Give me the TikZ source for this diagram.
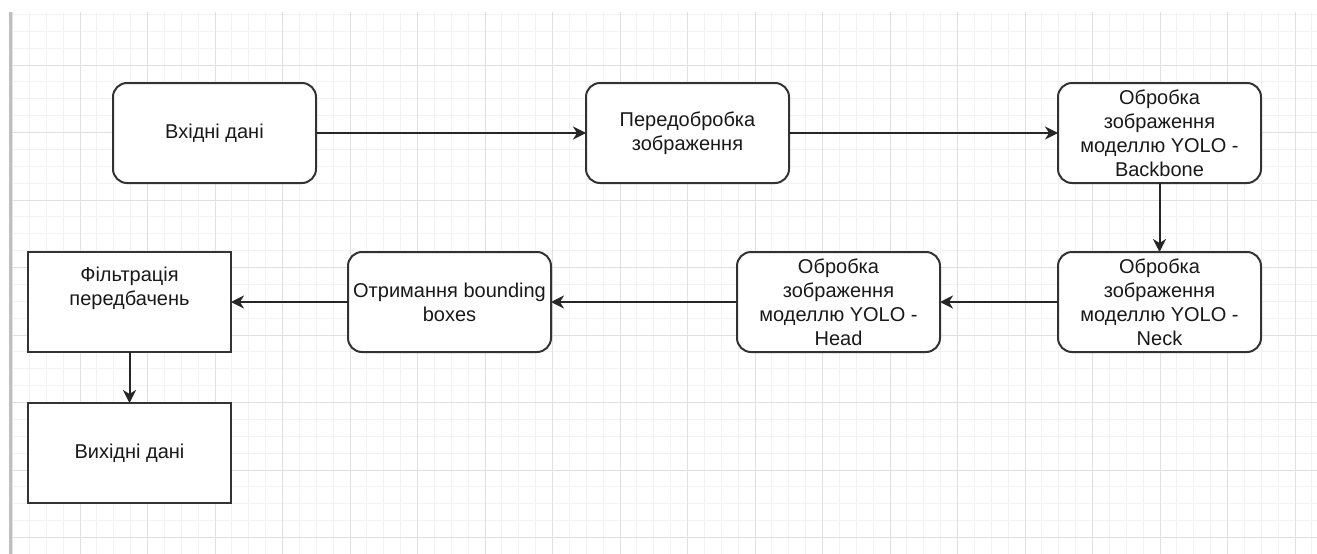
\documentclass[tikz,border=0pt]{standalone}
\usepackage{fontspec}
\setmainfont{Liberation Sans}
\usetikzlibrary{positioning, arrows.meta}

\tikzset{
	gridminor/.style={draw=black!5, line width=1pt},
	gridmajor/.style={draw=black!12, line width=1pt},
	stage/.style={draw=black!80, line width=2pt, fill=white, rounded corners=14pt,
		minimum width=203pt, minimum height=100pt, align=center, inner sep=2pt, outer sep=0pt,
		font=\fontsize{20}{24}\selectfont, text=black!90},
	plainstage/.style={stage, rounded corners=0pt},
	flow/.style={draw=black!85, line width=2pt, -{Stealth[length=13pt, width=13pt, inset=4pt]}}
}

\begin{document}
\begin{tikzpicture}[x=1pt, y=-1pt]
	\useasboundingbox[fill=white] (0,0) rectangle (1317,554);
	% grid
	\foreach \i in {0,...,77} \draw[gridminor] ({12.5+16.875*\i},12) -- ({12.5+16.875*\i},554);
	\foreach \j in {1,...,32} \draw[gridminor] (10,{-2.5+16.875*\j}) -- (1317,{-2.5+16.875*\j});
	\foreach \i in {0,...,19} \draw[gridmajor] ({12.5+67.5*\i},12) -- ({12.5+67.5*\i},554);
	\foreach \j in {1,...,8} \draw[gridmajor] (10,{-2.5+67.5*\j}) -- (1317,{-2.5+67.5*\j});
	\draw[draw=black!25, line width=3pt] (10,12) -- (10,554);

	% stages
	\node[stage] (inp) at (214.5,133) {Вхідні дані};
	\node[stage, right=270pt of inp] (pre) {Передобробка\\зображення};
	\node[stage, right=269pt of pre] (back) {Обробка\\зображення\\моделлю YOLO -\\Backbone};
	\node[stage, below=69pt of back] (neck) {Обробка\\зображення\\моделлю YOLO -\\Neck};
	\node[stage, left=118pt of neck] (head) {Обробка\\зображення\\моделлю YOLO -\\Head};
	\node[stage, left=186pt of head] (bbox) {Отримання bounding\\boxes};
	\node[plainstage, left=117pt of bbox] (filt) {Фільтрація\\передбачень\\\strut};
	\node[plainstage, below=51pt of filt] (outp) {Вихідні дані};

	% flow
	\draw[flow] (inp) -- (pre);
	\draw[flow] (pre) -- (back);
	\draw[flow] (back) -- (neck);
	\draw[flow] (neck) -- (head);
	\draw[flow] (head) -- (bbox);
	\draw[flow] (bbox) -- (filt);
	\draw[flow] (filt) -- (outp);
\end{tikzpicture}
\end{document}
